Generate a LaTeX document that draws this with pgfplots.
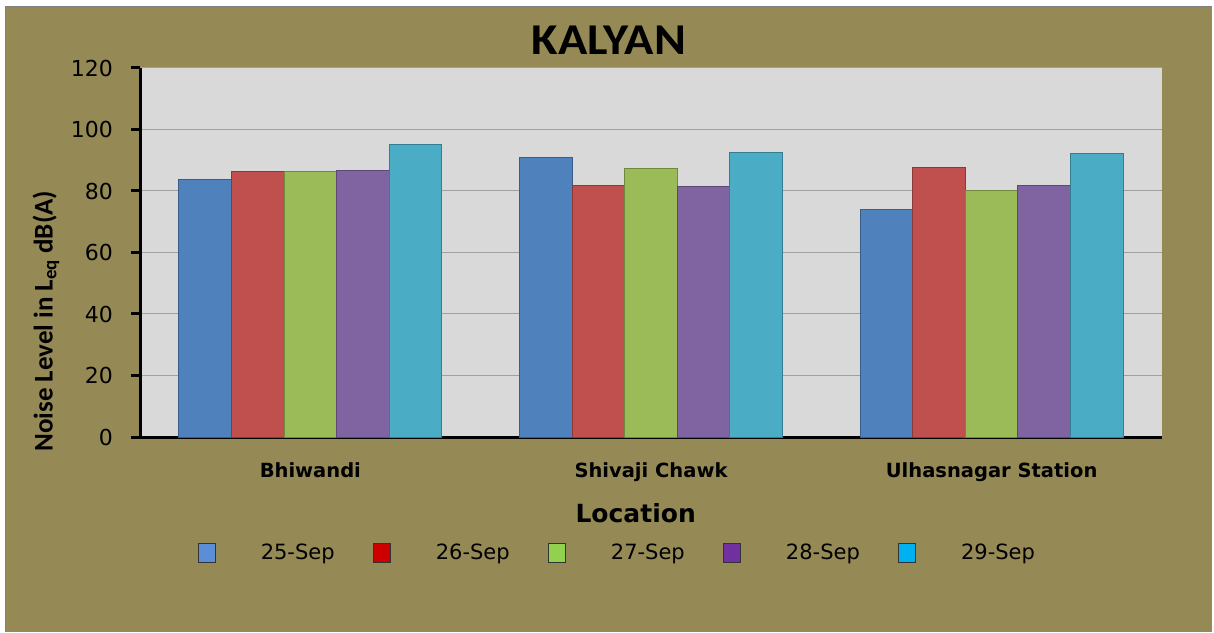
\documentclass[border=0pt]{standalone}
\usepackage{pgfplots}
\pgfplotsset{compat=1.18}
\usepackage{fontspec}
\setmainfont{DejaVu Sans}
\newfontfamily\titlefont[FakeStretch=1.1]{Carlito}
\newfontfamily\carlito{Carlito}
\newfontfamily\dejavu{DejaVu Sans}
\definecolor{bgolive}{RGB}{149,138,85}
\definecolor{plotgray}{RGB}{217,217,217}
\definecolor{gridgray}{RGB}{160,160,160}
\definecolor{cA}{HTML}{4F81BD}\definecolor{dA}{HTML}{385D8A}
\definecolor{cB}{HTML}{C0504D}\definecolor{dB}{HTML}{8C3836}
\definecolor{cC}{HTML}{9BBB59}\definecolor{dC}{HTML}{71893F}
\definecolor{cD}{HTML}{8064A2}\definecolor{dD}{HTML}{5C4776}
\definecolor{cE}{HTML}{4BACC6}\definecolor{dE}{HTML}{357D91}
\definecolor{lA}{HTML}{5B8ED6}
\definecolor{lB}{HTML}{CC0000}
\definecolor{lC}{HTML}{92D050}
\definecolor{lD}{HTML}{7030A0}
\definecolor{lE}{HTML}{00B0F0}
\begin{document}
\begin{tikzpicture}
\useasboundingbox (0pt,0pt) rectangle (1214pt,632pt);
\fill[white] (0pt,0pt) rectangle (1214pt,632pt);
\fill[bgolive] (5pt,0pt) rectangle (1212pt,625pt);
\draw[gray,line width=1pt] (5pt,0pt) -- (5pt,625pt) -- (1212pt,625pt);
\node[font=\titlefont\bfseries\fontsize{44}{50}\selectfont] at (609pt,592pt) {KALYAN};
\begin{axis}[
  at={(140pt,195pt)}, anchor=south west,
  scale only axis, width=1022pt, height=369pt,
  xmin=-0.5, xmax=2.5, ymin=0, ymax=120,
  ytick={0,20,...,120},
  xtick={0,1,2},
  xticklabels={Bhiwandi, Shivaji Chawk, Ulhasnagar Station},
  ybar=0pt, bar width=52.6pt,
  axis background/.style={fill=plotgray},
  ymajorgrids, grid style={gridgray, line width=1pt},
  axis lines*=left,
  axis line style={line width=3pt, black},
  xtick style={draw=none},
  ytick style={line width=3pt, black},
  tick align=outside, major tick length=9pt,
  /pgf/number format/assume math mode=true,
  yticklabel style={font=\dejavu\fontsize{22}{26}\selectfont, inner sep=0pt, anchor=east, xshift=-18pt},
  xticklabel style={font=\dejavu\bfseries\fontsize{19.5}{23}\selectfont, inner sep=0pt, anchor=north, yshift=-16pt},
  ylabel={Noise Level in L\textsubscript{eq} dB(A)},
  ylabel style={font=\carlito\bfseries\fontsize{27}{30}\selectfont, at={(axis description cs:-0.092,0.314)}, anchor=center, rotate=0},
  xlabel={Location},
  xlabel style={font=\dejavu\bfseries\fontsize{25}{28}\selectfont, at={(axis description cs:0.485,-0.206)}, anchor=center},
  legend columns=5,
  legend style={draw=none, fill=none, at={(axis description cs:0.467,-0.314)}, anchor=center,
    font=\dejavu\fontsize{21}{24}\selectfont,
    /tikz/every even column/.append style={column sep=36pt}},
  legend image code/.code={\draw[#1] (0pt,-9.5pt) rectangle (17pt,9.5pt); \path (0pt,0pt) (60pt,0pt);},
]
\addplot[fill=cA, draw=dA, line width=1pt, forget plot, bar shift=-105.2pt] coordinates {(0,83.8) (1,90.8) (2,73.9)};
\addplot[fill=cB, draw=dB, line width=1pt, forget plot, bar shift=-52.6pt] coordinates {(0,86.3) (1,81.7) (2,87.6)};
\addplot[fill=cC, draw=dC, line width=1pt, forget plot, bar shift=0pt] coordinates {(0,86.3) (1,87.2) (2,80.1)};
\addplot[fill=cD, draw=dD, line width=1pt, forget plot, bar shift=52.6pt] coordinates {(0,86.8) (1,81.4) (2,81.7)};
\addplot[fill=cE, draw=dE, line width=1pt, forget plot, bar shift=105.2pt] coordinates {(0,95.2) (1,92.6) (2,92.1)};
\addlegendimage{fill=lA, draw=black!80, line width=1.2pt}
\addlegendentry{25-Sep}
\addlegendimage{fill=lB, draw=black!80, line width=1.2pt}
\addlegendentry{26-Sep}
\addlegendimage{fill=lC, draw=black!80, line width=1.2pt}
\addlegendentry{27-Sep}
\addlegendimage{fill=lD, draw=black!80, line width=1.2pt}
\addlegendentry{28-Sep}
\addlegendimage{fill=lE, draw=black!80, line width=1.2pt}
\addlegendentry{29-Sep}
\end{axis}
\end{tikzpicture}
\end{document}
